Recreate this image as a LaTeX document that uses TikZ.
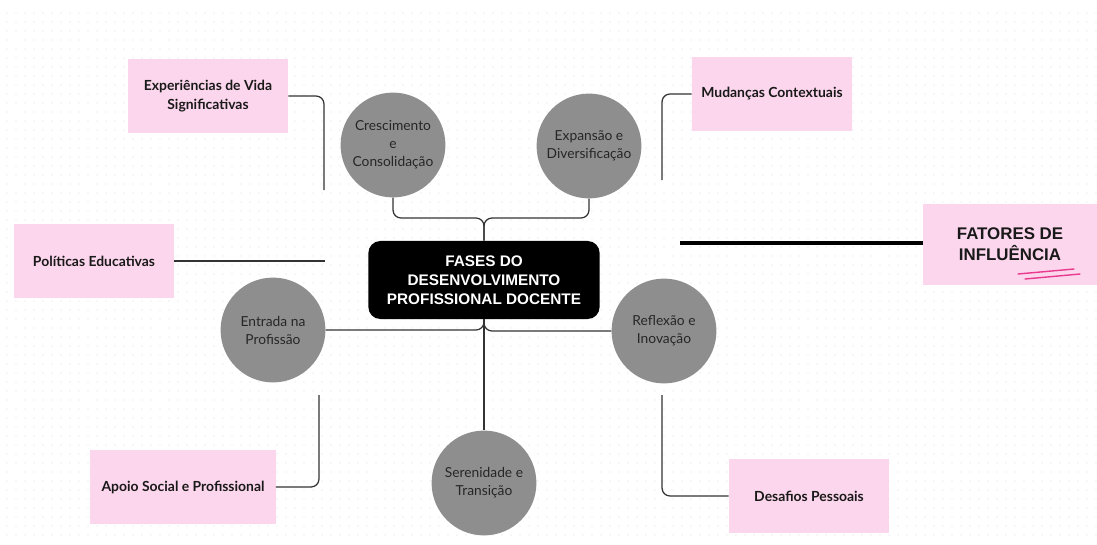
\documentclass[tikz,border=0pt]{standalone}
\usepackage{fontspec}
\setmainfont{Lato}
\newfontfamily\headfont{Liberation Sans}
\usetikzlibrary{positioning}

\definecolor{factorpink}{HTML}{FCD6EC}
\definecolor{phasegray}{HTML}{8E8E8E}
\definecolor{linkgray}{HTML}{333333}
\definecolor{dotgray}{HTML}{DEDEDE}
\definecolor{markpink}{HTML}{E83A8E}

\tikzset{
	factor/.style={fill=factorpink, minimum width=4cm, minimum height=1.83cm,
		align=center, text=black!90, font=\bfseries\fontsize{9.9}{13.5}\selectfont},
	phase/.style={circle, fill=phasegray, minimum size=2.62cm, inner sep=0pt,
		align=center, text=black!85, font=\fontsize{9.8}{12.8}\selectfont},
	core/.style={fill=black, rounded corners=0.3cm, minimum width=5.78cm,
		minimum height=1.95cm, align=center, text=white,
		font=\headfont\bfseries\fontsize{10.9}{13.5}\selectfont},
	link/.style={draw=linkgray, line width=0.9pt, rounded corners=0.2cm},
}

\begin{document}
\begin{tikzpicture}[x=0.025cm, y=-0.025cm]
	\useasboundingbox (0,0) rectangle (1097,545);
	% dotted paper
	\foreach \i in {0,...,121}
		\foreach \j in {0,...,58}
			\fill[dotgray] (7+9*\i, 13+9*\j) circle (0.7);

	% centre and phases
	\node[core] (core) at (484, 280) {FASES DO\\DESENVOLVIMENTO\\PROFISSIONAL DOCENTE};
	\node[phase] (cresc) at (393, 145) {Crescimento\\e\\Consolidação};
	\node[phase] (expan) at (589, 146) {Expansão e\\Diversificação};
	\node[phase] (entr) at (273, 330) {Entrada na\\Profissão};
	\node[phase] (refl) at (664, 331) {Reflexão e\\Inovação};
	\node[phase] (seren) at (484, 483) {Serenidade e\\Transição};

	% factors
	\node[factor] (exper) at (208, 96) {Experiências de Vida\\Significativas};
	\node[factor] (mudan) at (772, 94) {Mudanças Contextuais};
	\node[factor] (polit) at (94, 261) {Políticas Educativas};
	\node[factor, minimum width=4.63cm] (apoio) at (183, 487) {Apoio Social e Profissional};
	\node[factor] (desaf) at (809, 496) {Desafios Pessoais};
	\node[factor, minimum width=4.35cm, minimum height=2.03cm,
		font=\headfont\bfseries\fontsize{12}{15}\selectfont] (fator) at (1010, 244.5)
		{FATORES DE\\INFLUÊNCIA};
	\draw[markpink, line width=1pt, line cap=round] (1018, 274) -- (1074, 269);
	\draw[markpink, line width=1pt, line cap=round] (1025, 279) -- (1080, 274);

	% free ends
	\coordinate (join) at (484, 218);
	\coordinate (expend) at (324, 190);
	\coordinate (mudend) at (662, 180);
	\coordinate (polend) at (325, 261);
	\coordinate (apoend) at (319, 395);
	\coordinate (desend) at (662, 395);
	\coordinate (fatend) at (680, 243);

	% connectors
	\draw[link] (cresc.south) |- (join) -- (core.north);
	\draw[link] (expan.south) |- (join) -- (core.north);
	\draw[link] (core.south) |- (entr.east);
	\draw[link] (core.south) |- (refl.west);
	\draw[link] (core.south) -- (seren.north);
	\draw[link] (exper.east) -| (expend);
	\draw[link] (mudan.west) -| (mudend);
	\draw[link] (polit.east) -- (polend);
	\draw[link] (apoio.east) -| (apoend);
	\draw[link] (desaf.west) -| (desend);
	\draw[line width=3pt] (fatend) -- (fatend -| fator.west);
\end{tikzpicture}
\end{document}
